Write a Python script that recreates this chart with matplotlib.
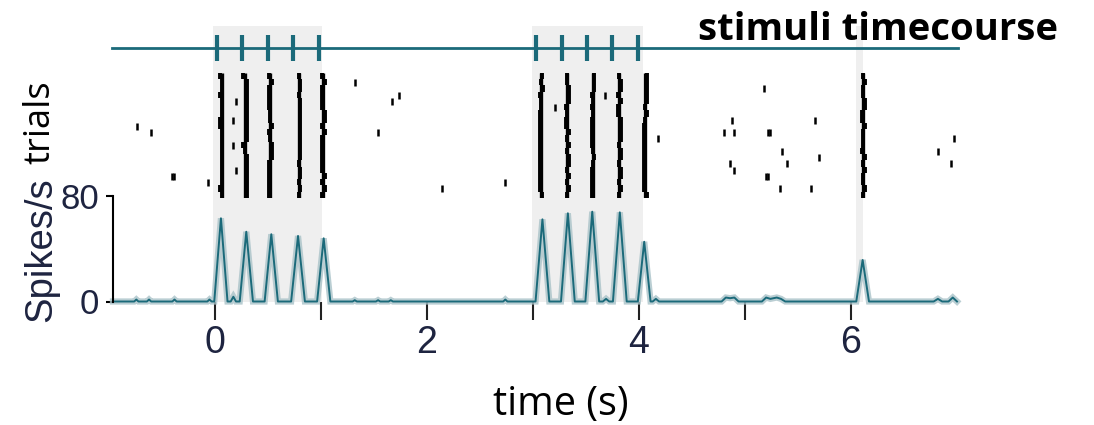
import matplotlib.pyplot as plt

# stimulus pulses (s) and shaded stimulation windows
stim_pulses = [0.02, 0.26, 0.50, 0.74, 0.98, 3.03, 3.27, 3.51, 3.75, 3.99]
stim_windows = [(-0.015, 1.015), (2.995, 4.04), (6.05, 6.11)]

N_TRIALS = 20

# evoked spike columns: centre time (s) and per-trial jitter (ms)
evoked_t = [0.065, 0.285, 0.525, 0.79, 1.025, 3.08, 3.325, 3.565, 3.815, 4.06, 6.115]
evoked_jitter_ms = [
    [-20, 0, 0, -20, 0, 0, 0, -20, -20, 0, 0, 0, 0, 0, 0, 0, 0, 0, -20, 0],
    [-15, 15, 15, 15, 15, 15, 15, 15, 15, 15, 15, -15, 0, 15, 15, 15, 15, 15, 15, 15],
    [-10, 15, -10, -10, -10, -10, 0, 0, 15, -10, 0, 15, 15, 15, -10, -10, -10, -10, -10, -10],
    [0, 15, 15, 0, 15, 15, 15, 15, 15, 15, 15, 15, 15, 15, 0, 15, 15, 0, 15, 0],
    [-10, 10, -10, -10, -10, -10, 10, 10, -10, 10, -10, -10, -10, -10, -10, -10, 10, -10, 10, -10],
    [10, 0, 15, -10, 0, 0, -10, -10, -10, -10, -10, -10, -10, -10, -10, -10, -10, -10, -10, 10],
    [0, 0, 15, 15, 15, -10, 0, -10, -10, 15, 0, 15, 0, 15, 15, 0, 15, 0, 15, 0],
    [15, 15, 15, -10, 0, -10, 0, -10, -10, -10, -10, -10, 0, 15, 0, -10, -10, -10, -10, -10],
    [0, 15, 15, -10, 15, -10, -10, 15, 15, 15, 15, 0, 15, 15, 0, 15, 15, 0, 15, 0],
    [15, 15, 15, 15, 15, 0, 15, 0, -10, -10, -10, -10, -10, -10, -10, -10, -10, -10, -10, 15],
    [0, 15, 0, 0, 15, 15, -10, -10, 15, 0, 0, 0, -10, 15, 0, 15, 0, 0, 15, 0],
]

# spontaneous spikes (s) and the trial they sit in
spont_t = [-0.73, -0.60, -0.40, -0.38, -0.06, 0.20, 0.17, 0.17, 0.20, 1.32, 1.74,
           1.67, 1.54, 2.14, 2.74, 3.21, 3.68, 4.18, 4.88, 4.80, 4.90, 5.22, 5.24,
           5.18, 5.35, 5.40, 4.86, 4.90, 5.20, 5.22, 5.33, 5.62, 5.66, 5.70, 6.82,
           6.97, 6.94]
spont_trial = [8, 9, 16, 16, 17, 4, 7, 11, 15, 1, 3,
               4, 9, 18, 17, 5, 3, 10, 7, 9, 9, 9, 9,
               2, 12, 14, 14, 15, 16, 16, 18, 18, 7, 13, 12,
               10, 14]

# PSTH (spikes/s), vertices
psth_t = [-0.96, -0.76, -0.74, -0.72, -0.64, -0.62, -0.60, -0.40, -0.38, -0.36,
          -0.07, -0.05, -0.03,
          -0.005, 0.058, 0.12, 0.15, 0.175, 0.20, 0.235, 0.297, 0.36,
          0.47, 0.533, 0.595, 0.72, 0.785, 0.85, 0.965, 1.027, 1.09,
          1.30, 1.32, 1.34, 1.52, 1.54, 1.56, 1.64, 1.66, 1.68,
          2.72, 2.74, 2.76,
          3.025, 3.09, 3.155, 3.265, 3.33, 3.395, 3.495, 3.56, 3.625, 3.66, 3.69, 3.72,
          3.755, 3.82, 3.885, 3.99, 4.05, 4.11, 4.13, 4.16, 4.19,
          4.78, 4.82, 4.86, 4.90, 4.94, 5.16, 5.20, 5.24, 5.30, 5.34, 5.38,
          6.05, 6.11, 6.17,
          6.78, 6.82, 6.86, 6.92, 6.96, 7.0]
psth_rate = [0, 0, 1.5, 0, 0, 1.5, 0, 0, 1.5, 0,
             0, 1.5, 0,
             0, 63.1, 0, 0, 3.6, 0, 0, 52.9, 0,
             0, 51.0, 0, 0, 49.7, 0, 0, 47.9, 0,
             0, 1.0, 0, 0, 1.0, 0, 0, 1.0, 0,
             0, 1.5, 0,
             0, 62.3, 0, 0, 66.9, 0, 0, 68.1, 0, 0, 2.0, 0,
             0, 67.6, 0, 0, 45.3, 0, 0, 2.0, 0,
             0, 3.0, 2.5, 3.0, 0, 0, 3.0, 2.0, 3.0, 2.0, 0,
             0, 31.5, 0,
             0, 2.0, 0, 0, 3.0, 0]

TEAL = "#1b6a7a"
BAND = "#a9c2c8"
SHADE = "#efefef"
NAVY = "#1e2440"
W, H = 1094, 425
L_PX, R_PX = 113, 957
XLIM = (-0.96, 7.0)


def rect(top_px, bottom_px):
    return [L_PX / W, 1 - bottom_px / H, (R_PX - L_PX) / W, (bottom_px - top_px) / H]


fig = plt.figure(figsize=(W / 100, H / 100), dpi=100)

# shaded stimulation windows behind everything
ax_bg = fig.add_axes(rect(26, 301.5))
ax_bg.set_xlim(XLIM)
ax_bg.set_ylim(0, 1)
ax_bg.axis("off")
for start, end in stim_windows:
    ax_bg.axvspan(start, end, color=SHADE, lw=0)

# stimulus timecourse
ax_stim = fig.add_axes(rect(26, 70))
ax_stim.set_facecolor("none")
ax_stim.set_xlim(XLIM)
ax_stim.set_ylim(0, 1)
ax_stim.axis("off")
ax_stim.plot([XLIM[0] - 0.01, XLIM[1] + 0.01], [0.5, 0.5], color=TEAL, lw=2, clip_on=False)
ax_stim.plot(stim_pulses, [0.5] * len(stim_pulses), ls="none", marker="|",
             ms=19, mew=3, color=TEAL)

# raster
ax_r = fig.add_axes(rect(73, 198))
ax_r.set_facecolor("none")
ax_r.set_xlim(XLIM)
ax_r.set_ylim(N_TRIALS, 0)
ax_r.axis("off")
for t0, jit in zip(evoked_t, evoked_jitter_ms):
    ax_r.vlines(t0, 0, N_TRIALS, color="black", lw=2.4)
    for trial, j in enumerate(jit):
        ax_r.vlines(t0 + j / 1000, trial, trial + 1, color="black", lw=2.8)
ax_r.vlines(spont_t, [k for k in spont_trial], [k + 1.1 for k in spont_trial],
            color="black", lw=1.8)

# PSTH
ax_p = fig.add_axes(rect(196, 301.5))
ax_p.set_facecolor("none")
ax_p.set_xlim(XLIM)
ax_p.set_ylim(0, 80)
ax_p.plot(psth_t, psth_rate, color=BAND, lw=4.5, alpha=0.8, clip_on=False, solid_joinstyle="miter")
ax_p.plot(psth_t, psth_rate, color=TEAL, lw=1.4, clip_on=False)
for s in ["top", "right", "bottom"]:
    ax_p.spines[s].set_visible(False)
ax_p.spines["left"].set_linewidth(1.5)
ax_p.spines["left"].set_bounds(0, 80)
ax_p.set_yticks([0, 80])
ax_p.tick_params(axis="y", length=5, width=1.5, pad=5, labelsize=25, labelcolor=NAVY)
ax_p.set_xticks([0, 2, 4, 6])
ax_p.set_xticks([1, 3, 5], minor=True)
ax_p.tick_params(axis="x", which="both", length=13, width=1.5, pad=4, labelsize=27,
                 labelcolor=NAVY, color="#222222")
for lab in ax_p.get_xticklabels() + ax_p.get_yticklabels():
    lab.set_family("Liberation Sans")

fig.text(41 / W, 1 - 250 / H, "Spikes/s", rotation=90, ha="center", va="center",
         fontsize=27.5, color=NAVY, family="Liberation Sans")
fig.text(40 / W, 1 - 122 / H, "trials", rotation=90, ha="center", va="center",
         fontsize=26, color="black", family="Open Sans")
fig.text(561 / W, 1 - 415 / H, "time (s)", ha="center", va="baseline",
         fontsize=28.5, color="black", family="Open Sans")
fig.text(878 / W, 1 - 40 / H, "stimuli timecourse", ha="center", va="baseline",
         fontsize=27.5, fontweight="bold", color="black", family="Open Sans")

fig.savefig("out.png", dpi=100)
